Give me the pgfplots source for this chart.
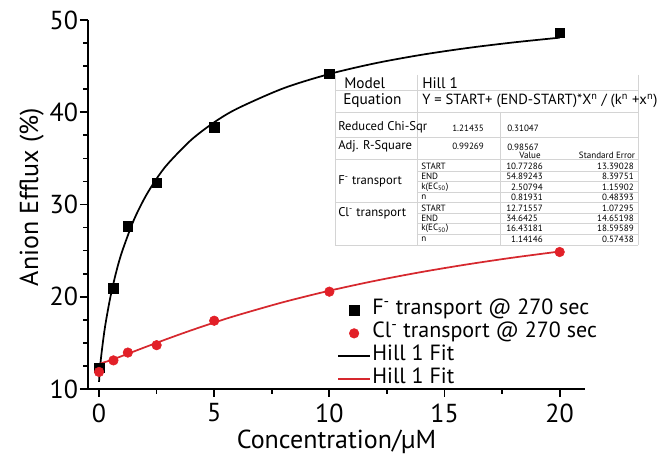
\documentclass[border=0pt]{standalone}
\usepackage{pgfplots}
\pgfplotsset{compat=1.18}
\usepackage{fontspec}
\setmainfont{PT Sans}
\definecolor{rdot}{RGB}{226,32,40}
\definecolor{rline}{RGB}{214,40,46}
\definecolor{tgrid}{RGB}{212,212,212}
\begin{document}
\begin{tikzpicture}
\begin{axis}[
  at={(0,0)}, anchor=south west,
  scale only axis, width=372.75pt, height=276.75pt,
  xmin=-0.48, xmax=21.1, ymin=10, ymax=50,
  axis x line=bottom, axis y line=left,
  every inner x axis line/.append style={-},
  every inner y axis line/.append style={-},
  axis line style={-, line width=1.5pt},
  xtick={0,5,10,15,20}, ytick={10,20,30,40,50},
  minor x tick num=1, minor y tick num=3,
  tick align=outside, major tick length=6pt, minor tick length=3.5pt,
  every tick/.style={line width=1.3pt, black},
  /pgf/number format/assume math mode=true,
  ticklabel style={font=\fontsize{19.5}{20}\selectfont},
  yticklabel style={xshift=2pt},
  xticklabel style={yshift=-1.5pt},
  xlabel={Concentration/µM}, ylabel={Anion Efflux (\%)},
  label style={font=\fontsize{19.5}{20}\selectfont},
  xlabel style={at={(axis description cs:0.5,-0.160)}, anchor=base},
  ylabel style={at={(axis description cs:-0.113,0.52)}, anchor=center},
  legend image code/.code={\draw[mark repeat=2,mark phase=2,#1] plot coordinates {(0pt,0pt) (12pt,0pt) (24pt,0pt)};},
  legend style={draw=none, fill=none, at={(0.501,0.245)}, anchor=north west,
    font=\fontsize{16.5}{17}\selectfont, row sep=0pt, inner sep=0pt,
    nodes={inner xsep=1pt, inner ysep=0pt, text height=12pt, text depth=5.25pt}},
  legend cell align=left,
  clip=false,
]
% Hill 1 fits (points computed from the fitted parameters in the inset table)
\addplot[black, line width=1.3pt, smooth, forget plot] coordinates {
 (0,10.773) (0.02,11.599) (0.05,12.488) (0.1,13.712) (0.2,15.708) (0.3,17.362)
 (0.5,20.065) (0.75,22.733) (1,24.895) (1.5,28.255) (2,30.793) (2.5,32.804)
 (3,34.449) (4,37.001) (5,38.908) (6,40.396) (8,42.591) (10,44.145)
 (12,45.314) (14,46.227) (16,46.964) (18,47.571) (20,48.084)};
\addplot[rline, line width=1.3pt, smooth, forget plot] coordinates {
 (0,12.716) (0.5,13.116) (1,13.579) (2,14.533) (3,15.468) (4,16.360)
 (5,17.201) (6,17.990) (8,19.413) (10,20.652) (12,21.734) (14,22.680)
 (16,23.513) (18,24.250) (20,24.904)};
% data
\addplot[only marks, mark=square*, mark size=3.6pt, black] coordinates {
 (0,12.3) (0.625,20.95) (1.25,27.67) (2.5,32.35) (5,38.4) (10,44.15) (20,48.6)};
\addplot[only marks, mark=*, mark size=3.6pt, rdot] coordinates {
 (0,11.85) (0.625,13.1) (1.25,13.95) (2.5,14.75) (5,17.4) (10,20.55) (20,24.85)};
\addlegendimage{black, line width=1.3pt}
\addlegendimage{rline, line width=1.3pt}
\legend{F\textsuperscript{-} transport @ 270 sec, Cl\textsuperscript{-} transport @ 270 sec, Hill 1 Fit, Hill 1 Fit}
\end{axis}
% inset table, in image pixel units
\begin{scope}[shift={(-66pt,291.75pt)}, x=0.75pt, y=-0.75pt]
\path[use as bounding box] (0,0) rectangle (669,452);
\fill[white] (335,75) rectangle (638,246);
\begin{scope}[tgrid, line width=0.4pt]
\draw (335,90) -- (638,90);
\draw (335,112) -- (638,112);
\draw (335,137) -- (638,137);
\draw (335,159) -- (638,159);
\draw (335,202.5) -- (638,202.5);
\draw (335,245) -- (638,245);
\foreach \yy in {171,181.5,192,213,223.5,234} \draw (417,\yy) -- (638,\yy);
\draw (335,75) -- (335,245);
\draw (417,75) -- (417,245);
\draw (500,112) -- (500,245);
\draw (638,75) -- (638,245);
\end{scope}
\begin{scope}[every node/.style={inner sep=0pt, anchor=west}]
\node[font=\fontsize{11.5}{12}\selectfont] at (344,83) {Model};
\node[font=\fontsize{11.5}{12}\selectfont] at (422,83) {Hill 1};
\node[font=\fontsize{11.5}{12}\selectfont] at (343,101) {Equation};
\node[font=\fontsize{11}{12}\selectfont] at (422,101) {Y = START+ (END-START)*X\textsuperscript{n} / (k\textsuperscript{n} +x\textsuperscript{n})};
\node[font=\fontsize{9.5}{10}\selectfont] at (338,127) {Reduced Chi-Sqr};
\node[font=\fontsize{9.5}{10}\selectfont] at (338,146) {Adj. R-Square};
\node[font=\fontsize{9.5}{10}\selectfont] at (338,181) {F\textsuperscript{-} transport};
\node[font=\fontsize{9.5}{10}\selectfont] at (338,213) {Cl\textsuperscript{-} transport};
\end{scope}
\begin{scope}[every node/.style={inner sep=0pt, anchor=west, font=\fontsize{6.8}{7}\selectfont}]
\node at (452,128) {1.21435};
\node at (507,128) {0.31047};
\node at (452,146) {0.99269};
\node at (507,147) {0.98567};
\node[anchor=center] at (530,155) {Value};
\node[anchor=center] at (607,155) {Standard Error};
\node at (421,166) {START};
\node at (421,176.5) {END};
\node at (421,187) {k(EC\textsubscript{50})};
\node at (421,197.5) {n};
\node at (421,208) {START};
\node at (421,218) {END};
\node at (421,228.5) {k(EC\textsubscript{50})};
\node at (421,239) {n};
\node at (506,166) {10.77286};
\node at (506,176.5) {54.89243};
\node at (506,187) {\phantom{0}2.50794};
\node at (506,197.5) {\phantom{0}0.81931};
\node at (506,208) {12.71557};
\node at (506,218) {34.6425};
\node at (506,228.5) {16.43181};
\node at (506,239) {\phantom{0}1.14146};
\end{scope}
\begin{scope}[every node/.style={inner sep=0pt, anchor=east, font=\fontsize{6.8}{7}\selectfont}]
\node at (634,166) {13.39028};
\node at (634,176.5) {8.39751};
\node at (634,187) {1.15902};
\node at (634,197.5) {0.48393};
\node at (634,208) {1.07295};
\node at (634,218) {14.65198};
\node at (634,228.5) {18.59589};
\node at (634,239) {0.57438};
\end{scope}
\end{scope}
\end{tikzpicture}
\end{document}
